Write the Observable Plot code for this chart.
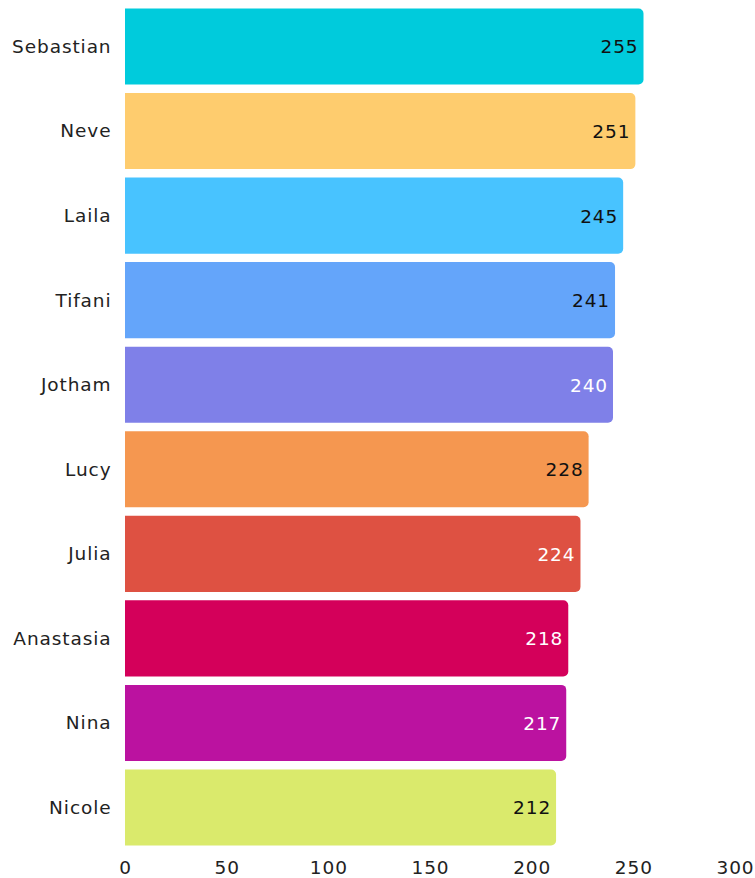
<!DOCTYPE html>
<html><head><meta charset="utf-8">
<script src="https://cdn.jsdelivr.net/npm/d3@7"></script>
<script src="https://cdn.jsdelivr.net/npm/@observablehq/plot@0.6"></script>
<style>body{margin:0;background:#fff;font-family:"DejaVu Sans",sans-serif}
svg text{letter-spacing:0.9px}</style>
</head><body><div id="chart"></div>
<script>
const names = ["Sebastian","Neve","Laila","Tifani","Jotham","Lucy","Julia","Anastasia","Nina","Nicole"];
const values = [255,251,245,241,240,228,224,218,217,212];
const colors = ["#00CBDC","#FECC6E","#48C3FF","#64A5FA","#7F80E8","#F59750","#DE5142","#D4005A","#BB12A0","#DAEA6C"];
const labelColors = ["#111","#111","#111","#111","#fff","#111","#fff","#fff","#fff","#111"];
const xTicks = [0,50,100,150,200,250,300];

const data = names.map((n,i)=>({name:n,value:values[i],color:colors[i],lc:labelColors[i]}));

function roundRight(index, scales, values, dimensions, context, next) {
  const g = next(index, scales, values, dimensions, context);
  const r0 = 5;
  g.querySelectorAll("rect").forEach(r => {
    const x = +r.getAttribute("x"), y = +r.getAttribute("y");
    const w = +r.getAttribute("width"), h = +r.getAttribute("height");
    const p = document.createElementNS("http://www.w3.org/2000/svg", "path");
    p.setAttribute("d", `M${x},${y}H${x+w-r0}A${r0},${r0} 0 0 1 ${x+w},${y+r0}V${y+h-r0}A${r0},${r0} 0 0 1 ${x+w-r0},${y+h}H${x}Z`);
    p.setAttribute("fill", r.getAttribute("fill"));
    r.replaceWith(p);
  });
  return g;
}

const chart = Plot.plot({
  width:755, height:878,
  marginLeft:125, marginRight:20, marginTop:0, marginBottom:24,
  style:{fontFamily:"'DejaVu Sans', sans-serif", fontSize:"18.5px", color:"#222"},
  x:{domain:[0,300], ticks:xTicks, label:null, tickSize:0, tickPadding:6},
  y:{domain:names, label:null, tickSize:0, tickPadding:14, padding:0.1, round:false},
  marks:[
    Plot.barX(data,{y:"name", x:"value", fill:"color", render:roundRight}),
    Plot.text(data,{y:"name", x:"value", text:d=>String(d.value), textAnchor:"end", dx:-5.5, dy:0.5, fill:"lc", fontSize:18.5})
  ]
});
document.getElementById("chart").appendChild(chart);
</script></body></html>
